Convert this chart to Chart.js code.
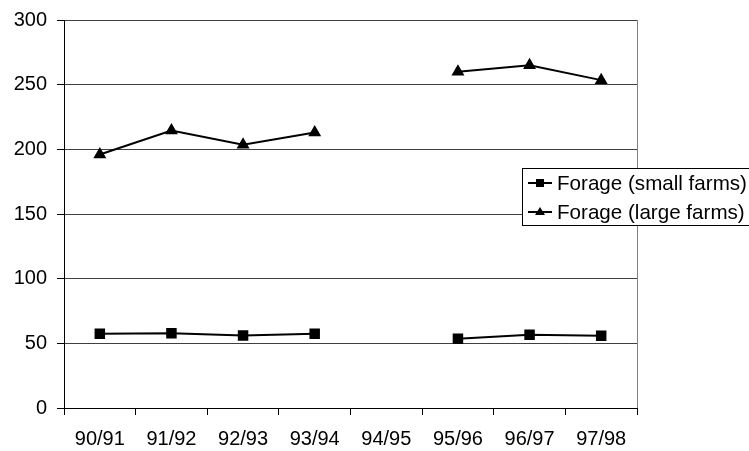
<!DOCTYPE html>
<html>
<head>
<meta charset="utf-8">
<script src="https://cdn.jsdelivr.net/npm/chart.js@4/dist/chart.umd.min.js"></script>
<style>
  html, body { margin: 0; padding: 0; background: #fff; }
  #wrap { width: 749px; height: 451px; }
</style>
</head>
<body>
<div id="wrap"><canvas id="chart" width="749" height="451"></canvas></div>
<script>
var seasons = ['90/91', '91/92', '92/93', '93/94', '94/95', '95/96', '96/97', '97/98'];
var smallFarms = [57.5, 57.8, 56, 57.5, null, 53.5, 56.7, 55.8];
var largeFarms = [196, 214.5, 203.5, 213, null, 260, 265, 253.5];
var yTicks = [0, 50, 100, 150, 200, 250, 300];

var FONT = { family: 'Liberation Sans, Arial, sans-serif', size: 20 };

// right border of the plot area
var frame = {
    id: 'frame',
    afterDraw: function (chart) {
        var a = chart.chartArea, ctx = chart.ctx;
        ctx.save();
        ctx.strokeStyle = '#808080';
        ctx.lineWidth = 1;
        ctx.beginPath();
        ctx.moveTo(Math.round(a.right) + 0.5, a.top);
        ctx.lineTo(Math.round(a.right) + 0.5, a.bottom);
        ctx.stroke();
        ctx.restore();
    }
};

// boxed legend drawn over the plot like the original
var boxLegend = {
    id: 'boxLegend',
    afterDraw: function (chart) {
        var ctx = chart.ctx;
        var x = 522, y = 168, w = 240, h = 57;
        ctx.save();
        ctx.fillStyle = '#fff';
        ctx.fillRect(x, y, w, h);
        ctx.strokeStyle = '#000';
        ctx.lineWidth = 1;
        ctx.strokeRect(x + 0.5, y + 0.5, w, h);
        chart.data.datasets.forEach(function (ds, i) {
            var cy = y + 15 + i * 29;
            ctx.strokeStyle = '#000';
            ctx.lineWidth = 2;
            ctx.beginPath();
            ctx.moveTo(x + 6, cy);
            ctx.lineTo(x + 30, cy);
            ctx.stroke();
            ctx.fillStyle = '#000';
            if (ds.pointStyle === 'rect') {
                ctx.fillRect(x + 14, cy - 4, 8, 8);
            } else {
                ctx.beginPath();
                ctx.moveTo(x + 18, cy - 5);
                ctx.lineTo(x + 23, cy + 3);
                ctx.lineTo(x + 13, cy + 3);
                ctx.closePath();
                ctx.fill();
            }
            ctx.font = '20.6px ' + FONT.family;
            ctx.textBaseline = 'middle';
            ctx.textAlign = 'left';
            ctx.fillText(ds.label, x + 35, cy + 1);
        });
        ctx.restore();
    }
};

new Chart(document.getElementById('chart'), {
    type: 'line',
    data: {
        labels: seasons,
        datasets: [{
            label: 'Forage (small farms)',
            data: smallFarms,
            borderColor: '#000',
            backgroundColor: '#000',
            borderWidth: 2,
            pointStyle: 'rect',
            pointRadius: 6,
            spanGaps: false,
            tension: 0
        }, {
            label: 'Forage (large farms)',
            data: largeFarms,
            borderColor: '#000',
            backgroundColor: '#000',
            borderWidth: 2,
            pointStyle: 'triangle',
            pointRadius: 5.5,
            spanGaps: false,
            tension: 0
        }]
    },
    options: {
        responsive: false,
        animation: false,
        layout: { padding: { top: 20, right: 112, bottom: 0, left: 0 } },
        plugins: {
            legend: { display: false },
            tooltip: { enabled: false }
        },
        scales: {
            x: {
                offset: true,
                afterFit: function (scale) { scale.height = 43; },
                grid: {
                    offset: true,
                    drawOnChartArea: false,
                    tickLength: 7,
                    tickColor: '#000'
                },
                border: { display: true, color: '#000', width: 1 },
                ticks: { color: '#000', font: FONT, padding: 12, maxRotation: 0 }
            },
            y: {
                min: 0,
                max: 300,
                afterBuildTicks: function (scale) {
                    scale.ticks = yTicks.map(function (v) { return { value: v }; });
                },
                afterFit: function (scale) {
                    scale.width = 64;
                    scale.paddingTop = 0;
                    scale.paddingBottom = 0;
                },
                grid: {
                    color: '#404040',
                    tickColor: '#000',
                    tickLength: 7
                },
                border: { display: true, color: '#000', width: 1 },
                ticks: { color: '#000', font: FONT, padding: 10 }
            }
        }
    },
    plugins: [frame, boxLegend]
});
</script>
</body>
</html>
